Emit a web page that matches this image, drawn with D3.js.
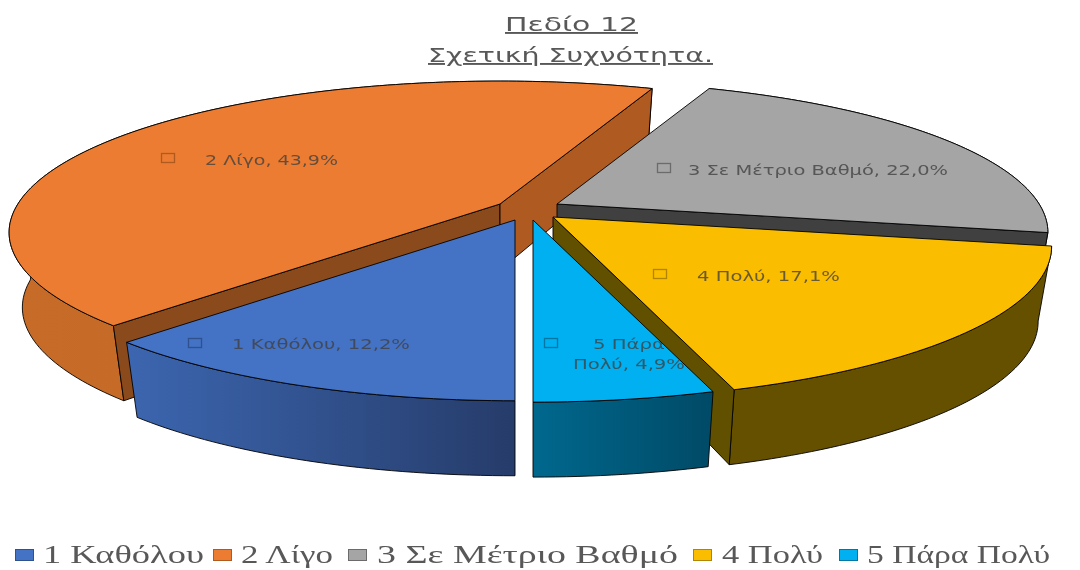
<!DOCTYPE html>
<html><head><meta charset="utf-8">
<script src="https://cdn.jsdelivr.net/npm/d3@7/dist/d3.min.js"></script>
<style>html,body{margin:0;padding:0;background:#fff}svg{display:block}</style>
</head><body><svg id="c" width="1080" height="570"></svg>
<script>
const categories = ["1 Καθόλου","2 Λίγο","3 Σε Μέτριο Βαθμό","4 Πολύ","5 Πάρα Πολύ"];
const percentages = [12.2,43.9,22.0,17.1,4.9];
const titleLines = ["Πεδίο 12","Σχετική Συχνότητα."];

// styles and layout, separate from the data
const topColors   = ["#4472C4","#EB7C31","#A5A5A5","#FBBD00","#00B0F0"];
const markerEdges = ["#2F528F","#AE5A21","#6B6B6B","#B08600","#0076A3"];
const rimFrom     = ["#3C66B0","#C76B28","#404040","#655000","#00688E"];
const rimTo       = ["#263C6A","#C06626","#404040","#655000","#004A66"];
const startWall   = [null,"#8B4A1C",null,null,null];
const endWall     = [null,"#AE5A21","#404040","#615000",null];
const centers     = [[515,220],[500,204],[557,204],[553,217],[533,220]];
const radii       = [0.994,0.99,0.99,1.005,1];
const drawOrder   = [1,2,3,0,4];
const RX=487, RY=147.5, PERSP=0.19, SX=0.973, SY=1.06, DEPTH=66, RIM=75;
const labelLayout = [
  {mx:195,my:343,lines:[{t:"1 Καθόλου, 12,2%",x:232,y:349,w:178}]},
  {mx:168,my:158,lines:[{t:"2 Λίγο, 43,9%",x:205,y:165,w:133}]},
  {mx:664,my:168,lines:[{t:"3 Σε Μέτριο Βαθμό, 22,0%",x:688,y:175,w:260}]},
  {mx:660,my:274,lines:[{t:"4 Πολύ, 17,1%",x:697,y:281,w:143}]},
  {mx:551,my:343,lines:[{t:"5 Πάρα",x:593,y:349,w:72},{t:"Πολύ, 4,9%",x:573,y:369,w:112}]}
];
const legendLayout = [[15,43,161],[213,241,92],[348,377,301],[693,722,101],[839,867,183]];

const svg = d3.select("#c");
const defs = svg.append("defs");
defs.append("filter").attr("id","soft").append("feGaussianBlur").attr("stdDeviation",0.45);
const pie = d3.pie().sort(null).startAngle(Math.PI).endAngle(3*Math.PI);
const arcs = pie(percentages);
const lineGen = d3.line();

const project = (c,theta,r=1) => {
  const sx=r*Math.sin(theta), cy=r*Math.cos(theta), p=1/(1+PERSP*cy);
  return [c[0]+RX*sx*p, c[1]-RY*cy*p];
};
const lower = (c,pt) => {
  const dy=pt[1]-c[1];
  return [c[0]+(pt[0]-c[0])*SX, pt[1]+(dy>0?RIM:DEPTH+dy*(SY-1))];
};
const sample = (a0,a1) => {
  const n=Math.max(2,Math.ceil((a1-a0)/0.02));
  return d3.range(n+1).map(i=>a0+(a1-a0)*i/n);
};

arcs.forEach((d,i)=>{
  const g=defs.append("linearGradient").attr("id","rim"+i).attr("x1",0).attr("x2",1).attr("y1",0).attr("y2",0);
  g.append("stop").attr("offset",0).attr("stop-color",rimFrom[i]);
  g.append("stop").attr("offset",1).attr("stop-color",rimTo[i]);
});

const slices = svg.append("g");
drawOrder.forEach(i=>{
  const d=arcs[i], c=centers[i];
  const edge=sample(d.startAngle,d.endAngle).map(t=>project(c,t,radii[i]));
  const edgeLow=edge.map(p=>lower(c,p));
  const cLow=lower(c,c);
  const g=slices.append("g");
  const stroke=(s)=>s.attr("stroke","#000").attr("stroke-width",0.9).attr("stroke-linejoin","round");
  // outer rim first, so the walls hide its far part
  stroke(g.append("path").attr("d",lineGen(edge.concat(edgeLow.slice().reverse()))+"Z").attr("fill",`url(#rim${i})`));
  // the side walls that face the viewer
  if(startWall[i]) stroke(g.append("path").attr("d",lineGen([c,edge[0],edgeLow[0],cLow])+"Z").attr("fill",startWall[i]));
  if(endWall[i]) stroke(g.append("path").attr("d",lineGen([c,edge[edge.length-1],edgeLow[edgeLow.length-1],cLow])+"Z").attr("fill",endWall[i]));
  // top face
  const top=[c].concat(edge);
  stroke(g.append("path").attr("d",lineGen(top)+"Z").attr("fill",topColors[i]));
  defs.append("clipPath").attr("id","top"+i).append("path").attr("d",lineGen(top)+"Z");
});

// data labels
const labels=svg.append("g").attr("font-family","'DejaVu Sans',sans-serif").attr("font-size",14.5);
labelLayout.forEach((l,i)=>{
  const g=labels.append("g").attr("clip-path",`url(#top${i})`);
  g.append("rect").attr("x",l.mx-6.5).attr("y",l.my-4.5).attr("width",13).attr("height",9)
    .attr("fill",topColors[i]).attr("stroke",markerEdges[i]).attr("stroke-width",1.3);
  l.lines.forEach(t=>g.append("text").attr("x",t.x).attr("y",t.y).text(t.t)
    .attr("textLength",t.w).attr("lengthAdjust","spacingAndGlyphs")
    .attr("fill","#404040").attr("fill-opacity",0.78).attr("filter","url(#soft)"));
});

// title
const titleLayout=[[571.5,31,133],[570.5,62,285]];
const title=svg.append("g").attr("font-family","'DejaVu Sans',sans-serif").attr("font-size",19)
  .attr("fill","#595959").attr("text-anchor","middle").attr("text-decoration","underline").attr("filter","url(#soft)");
titleLines.forEach((t,i)=>title.append("text").attr("x",titleLayout[i][0]).attr("y",titleLayout[i][1]).text(t)
  .attr("textLength",titleLayout[i][2]).attr("lengthAdjust","spacingAndGlyphs"));

// legend
const legend=svg.append("g").attr("font-family","'Liberation Serif',serif").attr("font-size",25).attr("fill","#595959");
categories.forEach((t,i)=>{
  const [sx,tx,w]=legendLayout[i];
  legend.append("rect").attr("x",sx+0.5).attr("y",549.5).attr("width",18).attr("height",11)
    .attr("fill",topColors[i]).attr("stroke",markerEdges[i]).attr("stroke-width",1);
  legend.append("text").attr("x",tx).attr("y",563).text(t)
    .attr("textLength",w).attr("lengthAdjust","spacingAndGlyphs").attr("filter","url(#soft)");
});
</script></body></html>
